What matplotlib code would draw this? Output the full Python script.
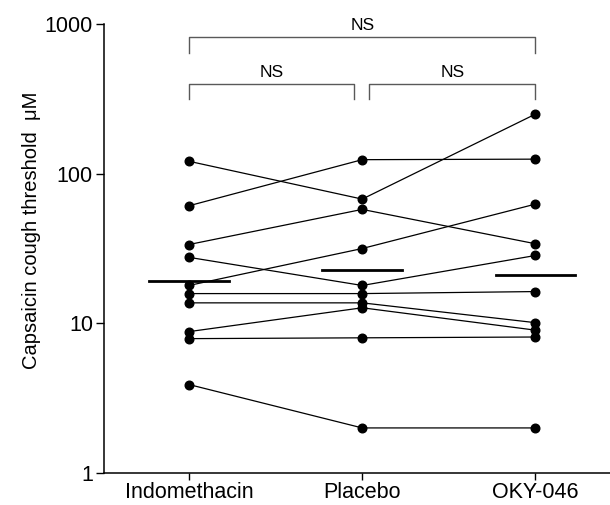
import numpy as np
import matplotlib
matplotlib.use("Agg")
import matplotlib.pyplot as plt
from matplotlib.ticker import FixedLocator, NullLocator

plt.rcParams['font.family'] = ['Liberation Sans', 'DejaVu Sans']

groups = ['Indomethacin', 'Placebo', 'OKY-046']

# one row per subject: indomethacin, placebo, OKY-046
indo = [121, 61, 33.6, 27.6, 17.9, 15.8, 13.7, 8.8, 7.9, 3.9]
placebo = [67.6, 124, 57.7, 17.9, 31.6, 15.8, 13.7, 12.7, 8.0, 2.0]
oky = [250, 125, 34.0, 28.4, 62.6, 16.3, 10.1, 9.0, 8.1, 2.0]

means = [19.3, 22.8, 21.0]

# significance brackets: (x0, x1, y_top, y_foot, label)
brackets = [(0, 2, 818, 640, 'NS'),
            (0, 0.95, 396, 315, 'NS'),
            (1.04, 2, 396, 315, 'NS')]

fig = plt.figure(figsize=(6.1, 5.05), dpi=100)
ax = fig.add_axes([0.1705, 0.0634, 0.8295, 0.8891])

x = np.arange(len(groups))
for row in zip(indo, placebo, oky):
    ax.plot(x, row, color='black', lw=0.9, marker='o', ms=6.2,
            mfc='black', mec='black', zorder=3)

for i, m in enumerate(means):
    ax.plot([i - 0.23, i + 0.23], [m, m], color='black', lw=2.0, zorder=4)

for x0, x1, yt, yf, lab in brackets:
    ax.plot([x0, x0, x1, x1], [yf, yt, yt, yf], color='0.35', lw=1.0,
            clip_on=False)
    ax.text((x0 + x1) / 2, yt * 1.07, lab, ha='center', va='bottom',
            fontsize=12.5)

ax.set_yscale('log')
ax.set_ylim(1, 1000)
ax.set_xlim(-0.49, 2.43)
ax.yaxis.set_major_locator(FixedLocator([1, 10, 100, 1000]))
ax.yaxis.set_minor_locator(NullLocator())
ax.set_yticklabels(['1', '10', '100', '1000'])
ax.set_xticks(x)
ax.set_xticklabels(groups)

ax.tick_params(axis='y', labelsize=15.5, length=6, width=1.0, pad=2)
ax.tick_params(axis='x', labelsize=15.5, length=5, width=1.0, pad=1.5)
ax.spines['top'].set_visible(False)
ax.spines['right'].set_visible(False)
ax.spines['left'].set_linewidth(1.1)
ax.spines['bottom'].set_linewidth(1.1)

ax.set_ylabel('Capsaicin cough threshold  \u03bcM', fontsize=14.5)
ax.yaxis.set_label_coords(-0.125, 0.54)

fig.savefig('out.png', dpi=100)
